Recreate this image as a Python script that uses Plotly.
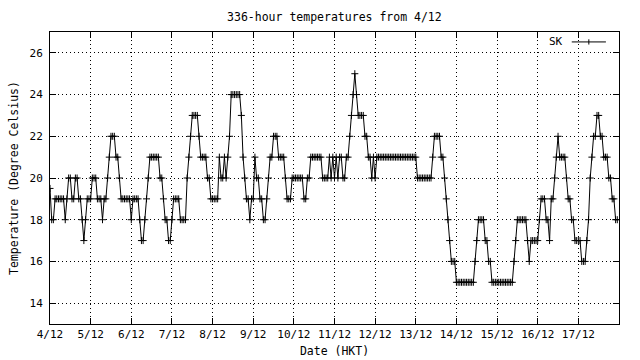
import plotly.graph_objects as go

# ---- data -------------------------------------------------------------
day_labels = ["4/12", "5/12", "6/12", "7/12", "8/12", "9/12", "10/12",
              "11/12", "12/12", "13/12", "14/12", "15/12", "16/12", "17/12"]

day1 = [19.5, 18, 18, 19, 19, 19, 19, 19, 19, 18, 19, 20, 20, 19, 19, 20, 20, 19, 19, 18, 17, 18, 19, 19]
day2 = [19, 20, 20, 20, 19, 19, 19, 18, 19, 19, 20, 21, 22, 22, 22, 21, 21, 20, 19, 19, 19, 19, 19, 19]
day3 = [18, 19, 19, 19, 19, 18, 17, 17, 18, 19, 20, 21, 21, 21, 21, 21, 21, 20, 20, 19, 18, 18, 17, 17]
day4 = [18, 19, 19, 19, 19, 18, 18, 18, 18, 20, 21, 22, 23, 23, 23, 23, 22, 21, 21, 21, 21, 20, 20, 19]
day5 = [19, 19, 19, 19, 21, 20, 20, 21, 20, 21, 22, 24, 24, 24, 24, 24, 24, 23, 21, 20, 19, 19, 18, 19]
day6 = [19, 21, 20, 20, 19, 19, 18, 18, 19, 20, 21, 21, 22, 22, 22, 21, 21, 21, 21, 20, 19, 19, 19, 20]
day7 = [20, 20, 20, 20, 20, 20, 19, 19, 20, 20, 21, 21, 21, 21, 21, 21, 21, 20, 20, 20, 20, 21, 20, 21]
day8 = [20, 21, 20, 21, 21, 20, 20, 21, 21, 22, 23, 24, 25, 24, 23, 23, 23, 23, 22, 22, 21, 21, 20, 21]
day9 = [20, 21, 21, 21, 21, 21, 21, 21, 21, 21, 21, 21, 21, 21, 21, 21, 21, 21, 21, 21, 21, 21, 21, 21]
day10 = [21, 20, 20, 20, 20, 20, 20, 20, 20, 20, 21, 22, 22, 22, 22, 21, 21, 20, 19, 18, 17, 16, 16, 16]
day11 = [15, 15, 15, 15, 15, 15, 15, 15, 15, 15, 15, 16, 17, 18, 18, 18, 18, 17, 17, 16, 16, 15, 15, 15]
day12 = [15, 15, 15, 15, 15, 15, 15, 15, 15, 15, 16, 17, 18, 18, 18, 18, 18, 18, 17, 16, 17, 17, 17, 17]
day13 = [17, 18, 19, 19, 19, 18, 18, 17, 19, 19, 20, 21, 22, 21, 21, 21, 21, 20, 19, 19, 18, 18, 17, 17]
day14 = [17, 17, 16, 16, 16, 17, 18, 20, 21, 22, 22, 23, 23, 22, 22, 21, 21, 21, 20, 20, 19, 19, 18, 18]

temps = (day1 + day2 + day3 + day4 + day5 + day6 + day7 + day8 + day9 + day10
         + day11 + day12 + day13 + day14)
hours = list(range(len(temps)))
day_ticks = [24 * i for i in range(len(day_labels))]
y_ticks = [14, 16, 18, 20, 22, 24, 26]

FONT = "DejaVu Sans Mono"

fig = go.Figure()
fig.add_trace(go.Scatter(
    x=hours, y=temps, mode="lines+markers", name="SK",
    line=dict(color="black", width=1),
    marker=dict(symbol="cross-thin", size=5, line=dict(color="black", width=1)),
    showlegend=False,
))

axis_common = dict(
    showline=True, linecolor="black", linewidth=1, mirror="ticks",
    ticks="inside", ticklen=6, tickcolor="black", tickwidth=1,
    showgrid=True, gridcolor="black", gridwidth=1, griddash="1px,3px",
    zeroline=False, automargin=False,
    tickfont=dict(family=FONT, size=11, color="black"),
)

fig.update_xaxes(
    range=[0, 336], tickvals=day_ticks, ticktext=day_labels,
    title=dict(text="Date (HKT)", font=dict(family=FONT, size=11.5, color="black"), standoff=6),
    **axis_common,
)
fig.update_yaxes(
    range=[13, 27], tickvals=y_ticks, ticktext=[str(v) for v in y_ticks],
    ticklabelstandoff=4,
    title=dict(text="Temperature (Degree Celsius)", font=dict(family=FONT, size=11.5, color="black"), standoff=8),
    **axis_common,
)

# legend drawn gnuplot-style: key text, then line sample
fig.add_annotation(xref="paper", yref="paper", x=0.905, y=0.966, text="SK",
                   showarrow=False, xanchor="right", yanchor="middle",
                   font=dict(family=FONT, size=11, color="black"))
fig.add_shape(type="line", xref="paper", yref="paper", x0=0.917, x1=0.977,
              y0=0.966, y1=0.966, line=dict(color="black", width=1))
fig.add_shape(type="line", xref="paper", yref="paper", x0=0.947, x1=0.947,
              y0=0.957, y1=0.975, line=dict(color="black", width=1))

fig.update_layout(
    width=640, height=360,
    margin=dict(l=50, r=21, t=32, b=36),
    paper_bgcolor="white", plot_bgcolor="white",
    title=dict(text="336-hour temperatures from 4/12", x=0.5225, xanchor="center",
               y=0.953, yanchor="middle",
               font=dict(family=FONT, size=11.5, color="black")),
    showlegend=False,
)

fig.write_html("out.html", config={"displayModeBar": False},
               post_script="document.body.style.margin='0px';")
